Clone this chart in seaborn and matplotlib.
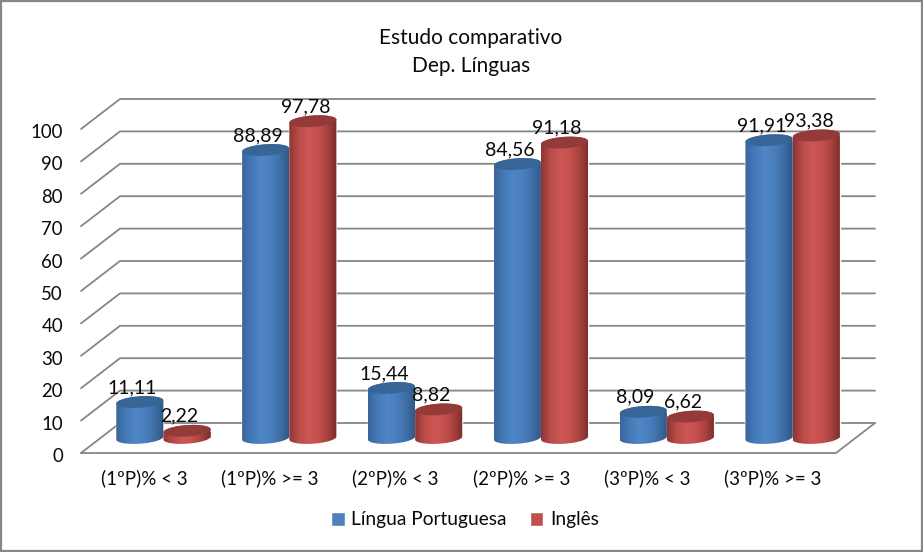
import matplotlib
matplotlib.use("Agg")
import matplotlib.pyplot as plt
import numpy as np
import pandas as pd
import seaborn as sns
from matplotlib.colors import LinearSegmentedColormap
from matplotlib.patches import PathPatch, Polygon, Rectangle
from matplotlib.path import Path
from matplotlib.transforms import ScaledTranslation

categories = ["(1ºP)% < 3", "(1ºP)% >= 3", "(2ºP)% < 3", "(2ºP)% >= 3", "(3ºP)% < 3", "(3ºP)% >= 3"]
portuguesa = [11.11, 88.89, 15.44, 84.56, 8.09, 91.91]
ingles = [2.22, 97.78, 8.82, 91.18, 6.62, 93.38]
y_ticks = list(range(0, 101, 10))

sns.set_theme(style="white")
plt.rcParams["font.family"] = ["Lato", "DejaVu Sans"]

W, H = 923, 552
GREY = "#868686"
TEXT = "#0a0a0a"

df = pd.DataFrame({"cat": categories, "Língua Portuguesa": portuguesa, "Inglês": ingles})
df = df.melt(id_vars="cat", var_name="disc", value_name="val")

fig = plt.figure(figsize=(W / 100, H / 100), dpi=100, facecolor="white")
fig.add_artist(Rectangle((1 / W, 1 / H), (W - 2) / W, (H - 2) / H, transform=fig.transFigure,
                         fill=False, ec=GREY, lw=1.6, joinstyle="miter"))

# front plane: tick labels and the floor
left, right, base, top = 81, 836, 453, 129
ax = fig.add_axes([left / W, (H - base) / H, (right - left) / W, (base - top) / H])
ax.set_xlim(-0.5, 5.5)
ax.set_ylim(0, 100)
ax.patch.set_alpha(0)
sns.despine(ax=ax, left=True, bottom=True)
ax.set_xticks(range(6), categories)
ax.set_yticks(y_ticks)
ax.tick_params(axis="x", length=0, pad=11.5, labelsize=13.5, labelcolor=TEXT)
ax.tick_params(axis="y", length=0, pad=13, labelsize=13.4, labelcolor=TEXT)
for lab in ax.get_yticklabels():
    lab.set_transform(lab.get_transform() + ScaledTranslation(0, -2 / 100, fig.dpi_scale_trans))

# depth of the box in data units
dx = 39 / ((right - left) / 6)
dy = 30 / ((base - top) / 100)
for v in y_ticks:
    ax.plot([-0.5, -0.5 + dx, 5.5 + dx], [v, v + dy, v + dy], color=GREY, lw=1.3, clip_on=False, zorder=1)
ax.plot([-0.5, 5.5, 5.5 + dx], [0, 0, dy], color=GREY, lw=1.3, clip_on=False, zorder=1)

# bars sit half way into the box
bars = fig.add_axes([(left + 19.5) / W, (H - base + 15) / H, (right - left) / W, (base - top) / H])
bars.patch.set_alpha(0)
sns.barplot(data=df, x="cat", y="val", hue="disc", ax=bars, width=0.75, gap=0, saturation=1,
            palette=["#4f81bd", "#c0504d"], order=categories)
bars.set_xlim(-0.5, 5.5)
bars.set_ylim(0, 100)
bars.axis("off")

sx = (right - left) / 6
sy = (base - top) / 100
tilt = np.radians(4)
rad_y = 5.7

blue = LinearSegmentedColormap.from_list("b", ["#3a659b", "#447ab8", "#4f86c6", "#4a7fbe", "#3f6fa8", "#2f5685"])
red = LinearSegmentedColormap.from_list("r", ["#8f3633", "#bb4c49", "#cb5653", "#c6514e", "#a94340", "#7a2d2b"])
lids = ["#376596", "#943a38"]


def ellipse(cx, cy, a, start, stop):
    # points of a tilted ellipse, worked out in pixels and put back in data units
    t = np.linspace(start, stop, 40)
    px = a * np.cos(t) * np.cos(tilt) - rad_y * np.sin(t) * np.sin(tilt)
    py = a * np.cos(t) * np.sin(tilt) + rad_y * np.sin(t) * np.cos(tilt)
    return np.column_stack([cx + px / sx, cy + py / sy])


handles, labels = bars.get_legend_handles_labels()
for k, (cont, cmap) in enumerate(zip(bars.containers, [blue, red])):
    for n, rect in enumerate(cont):
        val = rect.get_height()
        cx = rect.get_x() + rect.get_width() / 2
        a = rect.get_width() * sx / 2
        z = 3 + n + k * 0.5
        low = ellipse(cx, 0, a, np.pi, 2 * np.pi)
        high = ellipse(cx, val, a, 0, np.pi)
        pts = np.vstack([low, high, low[:1]])
        clip = PathPatch(Path(pts, closed=True), transform=bars.transData, fc="none", ec="none")
        bars.add_patch(clip)
        clip.set_clip_on(False)
        grad = np.linspace(0, 1, 64).reshape(1, -1)
        im = bars.imshow(grad, extent=[cx - a / sx, cx + a / sx, -3, val + 3], aspect="auto", cmap=cmap, zorder=z)
        im.set_clip_box(fig.bbox)
        im.set_clip_path(clip)
        bars.add_patch(Polygon(ellipse(cx, val, a, 0, 2 * np.pi), closed=True, fc=lids[k], ec="none", zorder=z,
                               clip_on=False))
        bars.annotate(f"{val:.2f}".replace(".", ","), (cx, val), xytext=(-7.5 * 0.72, 14.5 * 0.72),
                      textcoords="offset points", ha="center", va="center", fontsize=14, color=TEXT, zorder=20)
bars.set_xlim(-0.5, 5.5)
bars.set_ylim(0, 100)

bars.legend(handles, labels, loc="center", bbox_to_anchor=(465 / W, (H - 520) / H), bbox_transform=fig.transFigure,
            ncol=2, frameon=False, fontsize=13.8, handlelength=0.7, handleheight=0.7, handletextpad=0.35,
            columnspacing=1.2, labelcolor=TEXT)

fig.text(471 / W, 1 - 52 / H, "Estudo comparativo\nDep. Línguas", ha="center", va="center", fontsize=15,
         color=TEXT, linespacing=1.45)

fig.savefig("out.png", dpi=100)
